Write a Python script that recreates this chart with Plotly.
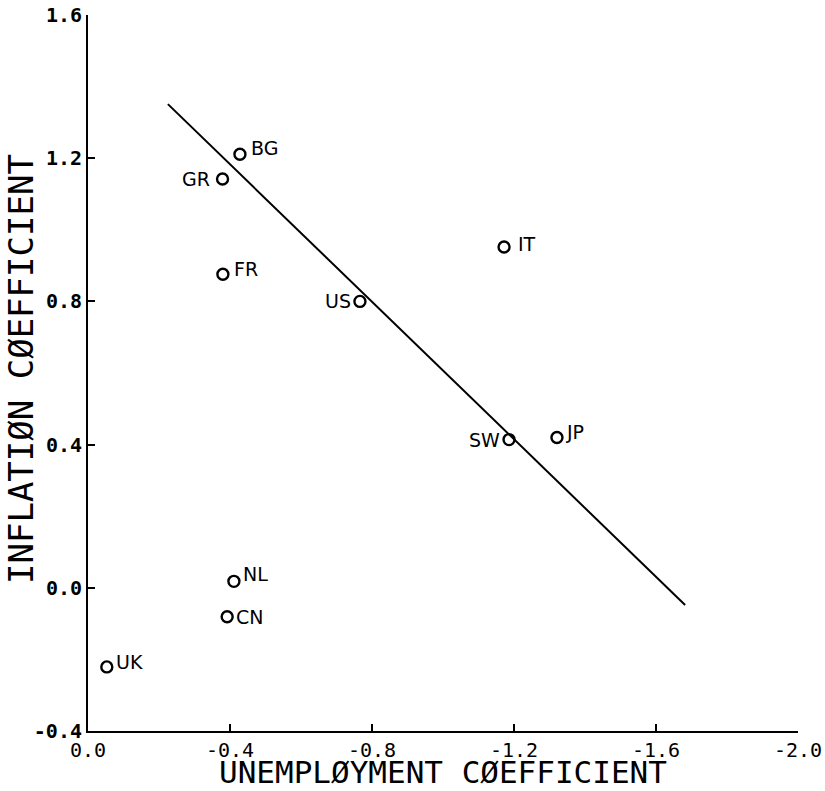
import plotly.graph_objects as go

countries = ["BG", "GR", "FR", "US", "IT", "SW", "JP", "NL", "CN", "UK"]
unemp_coef = [-0.428, -0.379, -0.380, -0.766, -1.172, -1.186, -1.321, -0.411, -0.392, -0.053]
infl_coef = [1.211, 1.142, 0.876, 0.800, 0.952, 0.414, 0.420, 0.018, -0.081, -0.221]

fit_x = [-0.225, -1.682]
fit_y = [1.351, -0.048]

x_ticks = [0.0, -0.4, -0.8, -1.2, -1.6, -2.0]
x_tick_text = ["0.0", "-0.4", "-0.8", "-1.2", "-1.6", "-2.0"]
y_ticks = [-0.4, 0.0, 0.4, 0.8, 1.2, 1.6]
y_tick_text = ["-0.4", "0.0", "0.4", "0.8", "1.2", "1.6"]

x_title = "UNEMPLØYMENT CØEFFICIENT"
y_title = "INFLATIØN CØEFFICIENT"

# label offsets (pixels) and anchors
label_style = {
    "BG": ("left", 9, 6),
    "GR": ("right", -11, 0),
    "FR": ("left", 9, 5),
    "US": ("right", -7, 0),
    "IT": ("left", 12, 3),
    "SW": ("right", -7, 0),
    "JP": ("left", 7, 5),
    "NL": ("left", 7, 7),
    "CN": ("left", 7, 0),
    "UK": ("left", 7, 5),
}

fig = go.Figure()
fig.add_trace(go.Scatter(x=fit_x, y=fit_y, mode="lines",
                         line=dict(color="black", width=2), showlegend=False))
fig.add_trace(go.Scatter(x=unemp_coef, y=infl_coef, mode="markers",
                         marker=dict(symbol="circle-open", size=11, color="black",
                                     line=dict(width=2.4, color="black")),
                         showlegend=False))

for c, xv, yv in zip(countries, unemp_coef, infl_coef):
    anchor, dx, dy = label_style[c]
    fig.add_annotation(x=xv, y=yv, text=c, showarrow=False, xanchor=anchor,
                       yanchor="middle", xshift=dx, yshift=dy,
                       font=dict(family="DejaVu Sans", size=19, color="black"))

fig.add_annotation(xref="paper", yref="paper", x=0.5, y=0, yshift=-60,
                   xanchor="center", yanchor="bottom", showarrow=False,
                   borderpad=0, text=x_title,
                   font=dict(family="DejaVu Sans Mono", size=31, color="black"))
fig.add_annotation(xref="paper", yref="paper", x=0, y=0.5, xshift=-67, yshift=4,
                   xanchor="center", yanchor="middle", showarrow=False,
                   borderpad=0, textangle=-90, text=y_title,
                   font=dict(family="DejaVu Sans Mono", size=34, color="black"))

fig.update_layout(
    width=825, height=791,
    margin=dict(l=88, r=27, t=15, b=60),
    plot_bgcolor="white", paper_bgcolor="white",
    xaxis=dict(range=[0.0, -2.0], tickvals=x_ticks, ticktext=x_tick_text,
               automargin=False,
               ticks="inside", ticklen=7, tickwidth=2, tickcolor="black",
               showline=True, linewidth=2, linecolor="black",
               showgrid=False, zeroline=False,
               tickfont=dict(family="DejaVu Sans Mono", size=20, color="black")),
    yaxis=dict(range=[-0.4, 1.6], tickvals=y_ticks, ticktext=y_tick_text,
               automargin=False, ticklabelstandoff=0,
               ticks="inside", ticklen=7, tickwidth=2, tickcolor="black",
               showline=True, linewidth=2, linecolor="black",
               showgrid=False, zeroline=False,
               tickfont=dict(family="DejaVu Sans Mono", size=20, color="black",
                             weight="bold")),
)

fig.write_html("out.html", config={"displayModeBar": False},
               post_script="document.body.style.margin='0';"
                           "document.body.style.overflow='hidden';")
